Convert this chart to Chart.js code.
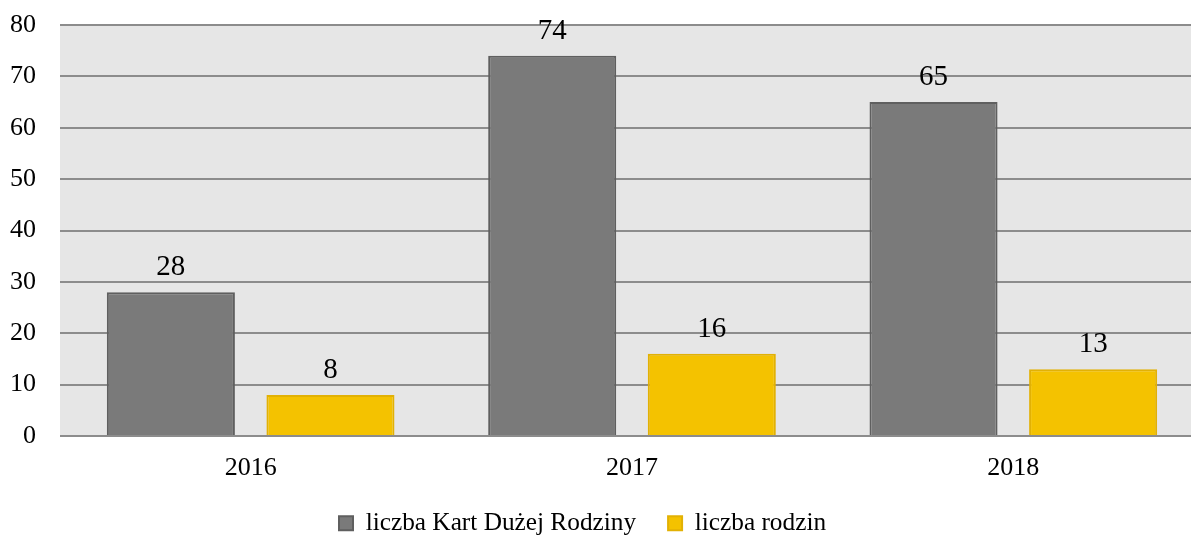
<!DOCTYPE html>
<html>
<head>
<meta charset="utf-8">
<script src="https://cdn.jsdelivr.net/npm/chart.js@4/dist/chart.umd.min.js"></script>
<style>
  html, body { margin: 0; padding: 0; background: #ffffff; overflow: hidden; }
  #wrap { position: absolute; left: 0; top: 0; width: 1204px; height: 537px; }
</style>
</head>
<body>
<div id="wrap"><canvas id="c" width="1204" height="537"></canvas></div>
<script>
const categories = ['2016', '2017', '2018'];
const seriesNames = ['liczba Kart Dużej Rodziny', 'liczba rodzin'];
const kartValues = [28, 74, 65];
const rodzinValues = [8, 16, 13];
const yTicks = [0, 10, 20, 30, 40, 50, 60, 70, 80];

const FONT = "'Times New Roman', 'Liberation Serif', serif";

const plotBg = {
  id: 'plotBg',
  beforeDraw(chart) {
    const { ctx, chartArea: a } = chart;
    ctx.save();
    ctx.fillStyle = '#e6e6e6';
    ctx.fillRect(a.left, a.top, a.right - a.left, a.bottom - a.top);
    ctx.restore();
  }
};

const valueLabels = {
  id: 'valueLabels',
  afterDatasetsDraw(chart) {
    const { ctx } = chart;
    ctx.save();
    ctx.font = '29px ' + FONT;
    ctx.fillStyle = '#000000';
    ctx.textAlign = 'center';
    ctx.textBaseline = 'alphabetic';
    chart.data.datasets.forEach((ds, i) => {
      chart.getDatasetMeta(i).data.forEach((el, j) => {
        ctx.fillText(String(ds.data[j]), el.x, el.y - 17);
      });
    });
    ctx.restore();
  }
};

const LEGEND_PAD = 32;

const legendPlace = {
  id: 'legendPlace',
  afterLayout(chart) {
    const lg = chart.legend;
    if (lg) {
      const w = lg.width, h = lg.height;
      lg.left = 339 - LEGEND_PAD; lg.right = lg.left + w;
      lg.top = 478.7; lg.bottom = lg.top + h;
    }
    // let the category labels draw below the (narrow) axis box
    if (chart.scales.x) chart.scales.x.bottom = chart.height;
  }
};

new Chart(document.getElementById('c'), {
  type: 'bar',
  data: {
    labels: categories,
    datasets: [
      {
        label: seriesNames[0],
        data: kartValues,
        backgroundColor: '#7a7a7a',
        borderColor: '#5f5f5f',
        borderWidth: 2,
        barPercentage: 0.8025,
        categoryPercentage: 0.837
      },
      {
        label: seriesNames[1],
        data: rodzinValues,
        backgroundColor: '#f4c200',
        borderColor: '#e2b104',
        borderWidth: 2,
        barPercentage: 0.8025,
        categoryPercentage: 0.837
      }
    ]
  },
  options: {
    responsive: false,
    animation: false,
    devicePixelRatio: 1,
    layout: { padding: { top: 25, left: 0, right: 0, bottom: 0 } },
    plugins: {
      tooltip: { enabled: false },
      legend: {
        position: 'bottom',
        align: 'start',
        labels: {
          font: { family: FONT, size: 25.3 },
          color: '#000000',
          boxWidth: 14,
          boxHeight: 14,
          padding: LEGEND_PAD
        }
      }
    },
    scales: {
      x: {
        grid: { display: false, drawTicks: false },
        border: { display: false },
        ticks: { font: { family: FONT, size: 26 }, color: '#000000', padding: 16.5 },
        afterFit(scale) {
          const lh = scale.chart.legend ? scale.chart.legend.height : 0;
          scale.height = Math.max(0, 537 - 436 - lh);
          scale.paddingLeft = 0; scale.paddingRight = 0;
        }
      },
      y: {
        min: 0,
        max: 80,
        afterBuildTicks(scale) { scale.ticks = yTicks.map(v => ({ value: v })); },
        grid: { color: '#8c8c8c', lineWidth: 2, drawTicks: false },
        border: { display: false },
        ticks: { font: { family: FONT, size: 26 }, color: '#000000', padding: 24 },
        afterFit(scale) {
          scale.width = 60;
          scale.paddingTop = 0; scale.paddingBottom = 0;
        }
      }
    }
  },
  plugins: [plotBg, valueLabels, legendPlace]
});
</script>
</body>
</html>
